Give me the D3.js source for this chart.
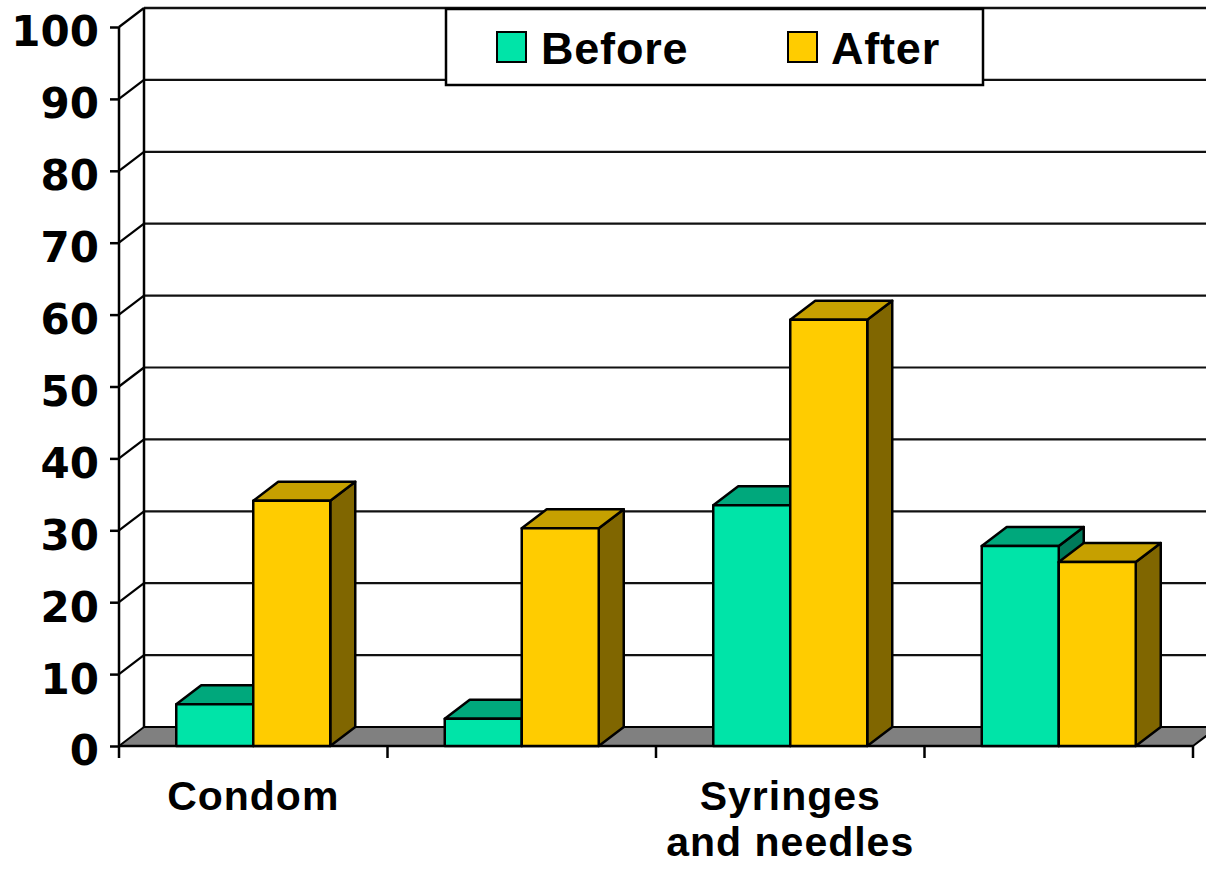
<!DOCTYPE html>
<html><head><meta charset="utf-8">
<script src="https://cdn.jsdelivr.net/npm/d3@7"></script>
<style>body{margin:0;background:#fff;}svg{display:block;}</style>
</head><body>
<svg id="c" width="1206" height="871"></svg>
<script>
const categories = ["c1", "c2", "c3", "c4"];
const categoryLabels = [["Condom"], [""], ["Syringes", "and needles"], [""]];
const series = ["Before", "After"];
const beforeValues = [5.8, 3.8, 33.5, 27.8];
const afterValues = [34.1, 30.3, 59.3, 25.6];
const yTicks = [0, 10, 20, 30, 40, 50, 60, 70, 80, 90, 100];

const colors = {
  Before: {front: "#00E4A8", top: "#00A87C", side: "#007A5A"},
  After: {front: "#FFCC00", top: "#C6A000", side: "#806600"}
};
const values = {Before: beforeValues, After: afterValues};

const svg = d3.select("#c");
const DX = 25, DY = -19;
const x = d3.scaleBand().domain(categories).range([119, 1193]).padding(0);
const y = d3.scaleLinear().domain([0, 100]).range([746, 27]);
const barW = 77;

const g = svg.append("g");
yTicks.forEach(t => {
  if (t === 0) return;
  g.append("line").attr("x1", 119 + DX).attr("x2", 1206 + 20)
    .attr("y1", y(t) + DY).attr("y2", y(t) + DY)
    .attr("stroke", "#111").attr("stroke-width", t === 100 ? 2.5 : 2.2);
  g.append("line").attr("x1", 119).attr("x2", 119 + DX)
    .attr("y1", y(t)).attr("y2", y(t) + DY).attr("stroke", "#000").attr("stroke-width", 2.2);
});
g.append("line").attr("x1", 119 + DX).attr("x2", 119 + DX)
  .attr("y1", y(100) + DY).attr("y2", y(0) + DY).attr("stroke", "#000").attr("stroke-width", 2.5);

const x0 = x.range()[0], x1 = x.range()[1];
g.append("path")
  .attr("d", `M${x0},${y(0)}L${x1},${y(0)}L${x1 + DX},${y(0) + DY}L${x0 + DX},${y(0) + DY}Z`)
  .attr("fill", "#808080").attr("stroke", "#000").attr("stroke-width", 2).attr("stroke-linejoin", "round");

g.append("line").attr("x1", 119).attr("x2", 119).attr("y1", y(100)).attr("y2", y(0))
  .attr("stroke", "#000").attr("stroke-width", 2.5);

const yAxis = d3.axisLeft(y).tickValues(yTicks).tickSize(9).tickPadding(0).tickFormat(d3.format("d"));
const ya = svg.append("g").attr("transform", "translate(119,0)").call(yAxis);
ya.select(".domain").remove();
ya.selectAll(".tick line").attr("stroke", "#000").attr("stroke-width", 2.5);
ya.selectAll(".tick text").attr("x", -20).attr("dy", "0.45em")
  .attr("font-family", "DejaVu Sans").attr("font-weight", "bold").attr("font-size", 42).attr("fill", "#000");

const xa = svg.append("g");
xa.append("line").attr("x1", x0).attr("x2", x1).attr("y1", y(0)).attr("y2", y(0))
  .attr("stroke", "#000").attr("stroke-width", 2.5);
const boundaries = categories.map(c => x(c)).concat([x1]);
xa.selectAll("line.tk").data(boundaries).join("line").attr("class", "tk")
  .attr("x1", d => d).attr("x2", d => d).attr("y1", y(0)).attr("y2", y(0) + 12)
  .attr("stroke", "#000").attr("stroke-width", 2.5);
categories.forEach((c, i) => {
  const cx = x(c) + x.bandwidth() / 2;
  categoryLabels[i].forEach((line, j) => {
    if (!line) return;
    xa.append("text").attr("x", cx).attr("y", 810 + j * 46).attr("text-anchor", "middle")
      .attr("font-family", "Liberation Sans, Arial").attr("font-weight", "bold")
      .attr("font-size", 41).attr("letter-spacing", 1).text(line);
  });
});

const bars = svg.append("g");
categories.forEach((c, i) => {
  const cx = x(c) + x.bandwidth() / 2;
  const inner = d3.scaleBand().domain(series).range([cx - barW, cx + barW]).padding(0);
  series.forEach(s => {
    const v = values[s][i];
    const bx = inner(s), bw = inner.bandwidth();
    const top = y(v), bot = y(0);
    const col = colors[s];
    const sg = bars.append("g").attr("stroke", "#000").attr("stroke-width", 2.5).attr("stroke-linejoin", "round");
    sg.append("path").attr("d", `M${bx + bw},${bot}L${bx + bw + DX},${bot + DY}L${bx + bw + DX},${top + DY}L${bx + bw},${top}Z`).attr("fill", col.side);
    sg.append("path").attr("d", `M${bx},${top}L${bx + DX},${top + DY}L${bx + bw + DX},${top + DY}L${bx + bw},${top}Z`).attr("fill", col.top);
    sg.append("rect").attr("x", bx).attr("y", top).attr("width", bw).attr("height", bot - top).attr("fill", col.front);
  });
});

const lg = svg.append("g");
lg.append("rect").attr("x", 446).attr("y", 9).attr("width", 537).attr("height", 76)
  .attr("fill", "#fff").attr("stroke", "#000").attr("stroke-width", 2.5);
const legendItems = [{s: "Before", sx: 497, tx: 541}, {s: "After", sx: 788, tx: 831}];
legendItems.forEach(it => {
  lg.append("rect").attr("x", it.sx).attr("y", 32).attr("width", 29).attr("height", 30)
    .attr("fill", colors[it.s].front).attr("stroke", "#000").attr("stroke-width", 2);
  lg.append("text").attr("x", it.tx).attr("y", 64).attr("font-family", "Liberation Sans, Arial")
    .attr("font-weight", "bold").attr("font-size", 45).attr("letter-spacing", 0.8).text(it.s);
});
</script>
</body></html>
